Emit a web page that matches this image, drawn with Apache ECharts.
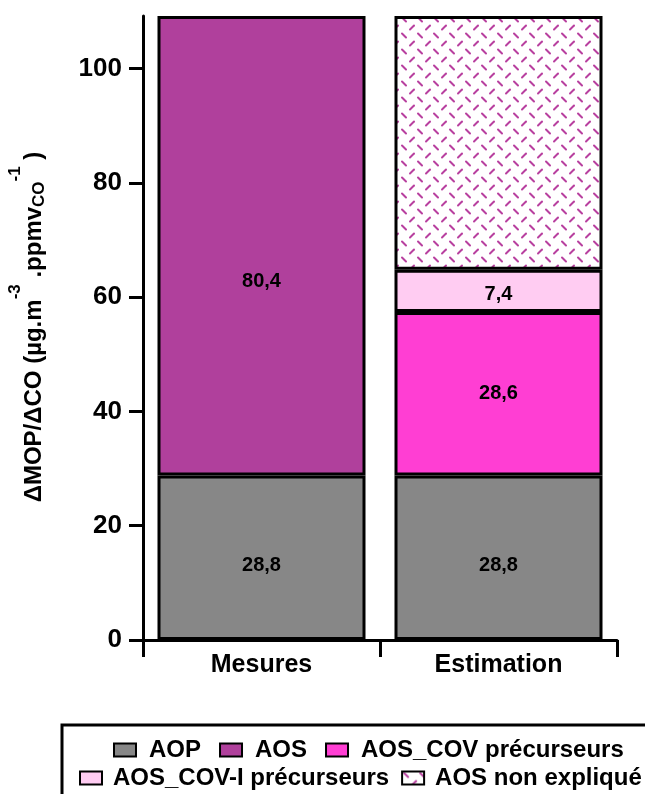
<!DOCTYPE html>
<html>
<head>
<meta charset="utf-8">
<script src="https://cdn.jsdelivr.net/npm/echarts@6/dist/echarts.min.js"></script>
<style>
html,body{margin:0;padding:0;background:#fff;}
#chart{width:645px;height:794px;}
</style>
</head>
<body>
<div id="chart"></div>
<script>
const categories = ['Mesures', 'Estimation'];
const seriesNames = ['AOP', 'AOS', 'AOS_COV précurseurs', 'AOS_COV-I précurseurs', 'AOS non expliqué'];
const aop = [28.8, 28.8];
const aos = [80.4, '-'];
const aosCov = ['-', 28.6];
const aosCovI = ['-', 7.4];
const aosNonExplique = ['-', 44.4];
const yTicks = [0, 20, 40, 60, 80, 100];

const FONT = '"Liberation Sans", Arial, Helvetica, sans-serif';

// hatch pattern
const pc = document.createElement('canvas');
pc.width = 16; pc.height = 16;
const g = pc.getContext('2d');
g.fillStyle = '#fff'; g.fillRect(0, 0, 16, 16);
g.strokeStyle = '#b8409f'; g.lineWidth = 2; g.lineCap = 'round';
g.beginPath(); g.moveTo(2, 1.5); g.lineTo(6, 5.5); g.stroke();
g.beginPath(); g.moveTo(10, 13.5); g.lineTo(14, 9.5); g.stroke();

const fmt = p => String(p.value).replace('.', ',');
const labelBase = {show: true, position: 'inside', color: '#000', fontFamily: FONT, fontWeight: 'bold', fontSize: 20, formatter: fmt};
const border = {borderColor: '#000', borderWidth: 3};
const legendText = {color: '#000', fontFamily: FONT, fontWeight: 'bold', fontSize: 24, padding: [0, 0, 0, 8]};
const legendText2 = {color: '#000', fontFamily: FONT, fontWeight: 'bold', fontSize: 24, padding: [0, 0, 0, 6]};

const chart = echarts.init(document.getElementById('chart'), null, {renderer: 'canvas'});
chart.setOption({
  animation: false,
  backgroundColor: '#fff',
  grid: {left: 143, right: 28, top: 16, bottom: 154},
  xAxis: {
    type: 'category', data: categories, boundaryGap: true,
    axisLine: {lineStyle: {color: '#000', width: 3}},
    axisTick: {show: true, length: 17, lineStyle: {color: '#000', width: 3}},
    axisLabel: {color: '#000', fontFamily: FONT, fontWeight: 'bold', fontSize: 25, margin: 13}
  },
  yAxis: {
    type: 'value', min: 0, max: 109.2, interval: 20,
    axisLine: {show: true, lineStyle: {color: '#000', width: 3}},
    axisTick: {show: true, length: 14, lineStyle: {color: '#000', width: 3}, customValues: yTicks},
    axisLabel: {color: '#000', fontFamily: FONT, fontWeight: 'bold', fontSize: 26, margin: 21, customValues: yTicks},
    splitLine: {show: false}
  },
  legend: [
    {data: seriesNames.slice(0, 3), left: 108, top: 733, width: 700, itemWidth: 22, itemHeight: 13, itemGap: 18,
     icon: 'rect', selectedMode: false,
     itemStyle: {borderColor: '#000', borderWidth: 2},
     textStyle: legendText},
    {data: seriesNames.slice(3), left: 74, top: 761, width: 800, itemWidth: 22, itemHeight: 13, itemGap: 12,
     icon: 'rect', selectedMode: false,
     itemStyle: {borderColor: '#000', borderWidth: 2},
     textStyle: legendText2}
  ],
  graphic: [
    {type: 'polyline', shape: {points: [[62, 800], [62, 725], [650, 725]]}, style: {stroke: '#000', lineWidth: 3, fill: null}},
    {type: 'text', x: 34, y: 327, rotation: Math.PI / 2,
     style: {
       text: '{b|ΔMOP/ΔCO (µg.m}{sup|-3}{b| .ppmv}{sub|CO}{sup|-1}{b| )}',
       align: 'center', verticalAlign: 'middle',
       rich: {
         b: {fontFamily: FONT, fontWeight: 'bold', fontSize: 24, fill: '#000', lineHeight: 50},
         sup: {fontFamily: FONT, fontWeight: 'bold', fontSize: 17, fill: '#000', verticalAlign: 'top', height: 13},
         sub: {fontFamily: FONT, fontWeight: 'bold', fontSize: 17, fill: '#000', verticalAlign: 'bottom', height: 40}
       }
     }}
  ],
  series: [
    {name: seriesNames[0], type: 'bar', stack: 't', data: aop, barWidth: 208,
     itemStyle: Object.assign({color: '#878787'}, border), label: Object.assign({offset: [0, 8]}, labelBase)},
    {name: seriesNames[1], type: 'bar', stack: 't', data: aos, barWidth: 208,
     itemStyle: Object.assign({color: '#b0409c'}, border), label: Object.assign({offset: [0, 36]}, labelBase)},
    {name: seriesNames[2], type: 'bar', stack: 't', data: aosCov, barWidth: 208,
     itemStyle: Object.assign({color: '#ff3ed3'}, border), label: labelBase},
    {name: seriesNames[3], type: 'bar', stack: 't', data: aosCovI, barWidth: 208,
     itemStyle: Object.assign({color: '#ffccf2'}, border), label: Object.assign({offset: [0, 4]}, labelBase)},
    {name: seriesNames[4], type: 'bar', stack: 't', data: aosNonExplique, barWidth: 208,
     itemStyle: Object.assign({color: {image: pc, repeat: 'repeat'}}, border), label: {show: false}}
  ]
});
</script>
</body>
</html>
